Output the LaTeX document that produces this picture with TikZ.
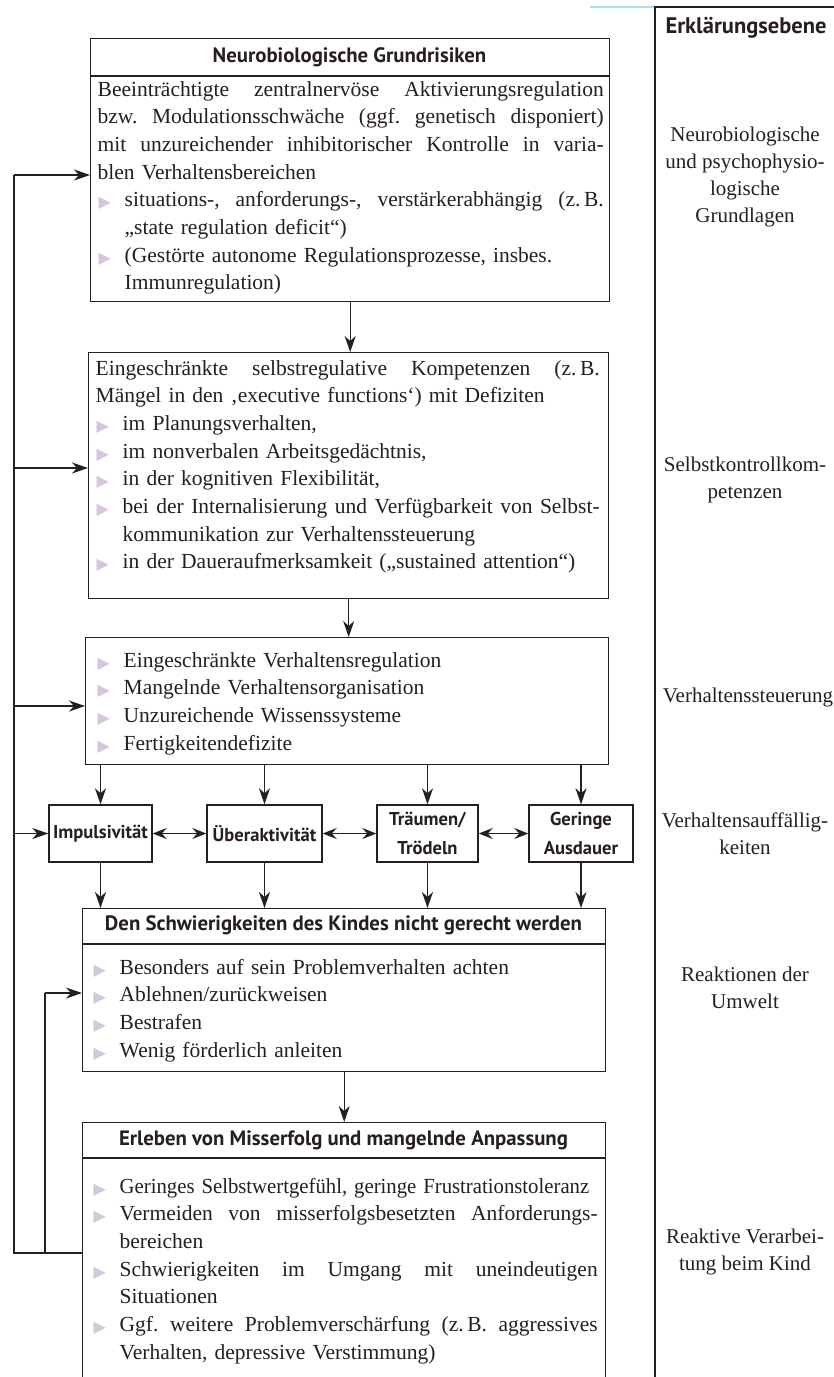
\documentclass[tikz,border=0pt]{standalone}
\usepackage{fontspec}
\usepackage{graphicx}
\setmainfont{Liberation Serif}
\newfontfamily\hdfont{PT Sans}
\newfontfamily\symfont{DejaVu Sans}
\usetikzlibrary{arrows.meta,calc}
\definecolor{ink}{RGB}{38,30,36}
\definecolor{bulcol}{RGB}{214,198,220}
\definecolor{scan}{RGB}{160,228,232}
\frenchspacing
\newlength\ind
\setlength\ind{27pt}
\newlength\bw
% list markers and line helpers
\newcommand\bul{\raisebox{-1pt}{\symfont\fontsize{16}{16}\selectfont\color{bulcol}▶}}
\newcommand\spread[2]{\hbox to #1{\spaceskip=0.25em plus 3em minus 0.05em\relax #2}}
\newcommand\Lj[1]{\noindent\strut\spread{\bw}{#1}\par}
\newcommand\Ll[1]{\noindent\strut\mbox{#1}\par}
\newcommand\Bj[1]{\noindent\strut\makebox[\ind][l]{\hspace{1pt}\bul}\spread{\dimexpr\bw-\ind\relax}{#1}\par}
\newcommand\Bl[1]{\noindent\strut\makebox[\ind][l]{\hspace{1pt}\bul}\mbox{#1}\par}
\newcommand\Cl[1]{\noindent\strut\hspace*{\ind}\mbox{#1}\par}
\begin{document}
\begin{tikzpicture}[x=1pt,y=-1pt,
  line width=1.4pt,
  every node/.style={text=ink},
  box/.style={draw=ink, line width=1.4pt, rectangle, inner sep=0pt, anchor=north west},
  sbox/.style={draw=ink, line width=1.4pt, rectangle, inner sep=0pt, minimum height=57pt,
    align=center, font=\hdfont\bfseries\fontsize{18.6}{29}\selectfont},
  hdr/.style={inner sep=0pt, font=\hdfont\bfseries\fontsize{20.8}{22}\selectfont},
  body/.style={inner sep=0pt, anchor=north west, text width=#1,
    font=\fontsize{21.5}{27.7}\selectfont\setlength\bw{#1}},
  rlab/.style={inner sep=0pt, align=center, font=\fontsize{21}{26.7}\selectfont},
  ln/.style={draw=ink, line width=1.4pt},
  arr/.style={draw=ink, line width=1.4pt, -{Stealth[length=16pt,width=11pt,inset=5pt]}},
  darr/.style={draw=ink, line width=1.4pt, {Stealth[length=14pt,width=11pt,inset=5pt]}-{Stealth[length=14pt,width=11pt,inset=5pt]}}
]
\useasboundingbox (0,0) rectangle (834,1377);
\clip (0,0) rectangle (834,1377);
\fill[white] (0,0) rectangle (834,1377);

% ---- level column on the right
\draw[scan, line width=1.4pt] (590,7) -- (655,7);
\draw[ln] (834,7) -- (655,7) -- (655,1380);
\node[inner sep=0pt, font=\hdfont\bfseries\fontsize{22.5}{24}\selectfont] (lvl) at (746,28) {Erklärungsebene};
\node[rlab] (r1) at (745,177) {Neurobiologische\\und psychophysio-\\logische\\Grundlagen};
\node[rlab] (r2) at (745,480) {Selbstkontrollkom-\\petenzen};
\node[rlab] (r3) at (748,697) {Verhaltenssteuerung};
\node[rlab] (r4) at (745,834) {Verhaltensauffällig-\\keiten};
\node[rlab] (r5) at (745,988) {Reaktionen der\\Umwelt};
\node[rlab] (r6) at (745,1252) {Reaktive Verarbei-\\tung beim Kind};

% ---- box 1: neurobiological risks
\node[box, minimum width=519pt, minimum height=263pt] (b1) at (90,38) {};
\draw[ln] (90,76) -- (609,76);
\node[hdr] (b1h) at (349.5,57) {Neurobiologische Grundrisiken};
\node[body=506pt] (b1t) at (97,76) {%
\Lj{Beeinträchtigte zentralnervöse Aktivierungsregulation}
\Lj{bzw. Modulationsschwäche (ggf. genetisch disponiert)}
\Lj{mit unzureichender inhibitorischer Kontrolle in varia-}
\Ll{blen Verhaltensbereichen}
\Bj{situations-, anforderungs-, verstärkerabhängig (z.\,B.}
\Cl{„state regulation deficit“)}
\Bl{(Gestörte autonome Regulationsprozesse, insbes.}
\Cl{Immunregulation)}};

% ---- box 2: self-regulation
\node[box, minimum width=520pt, minimum height=246pt] (b2) at (88,352) {};
\node[body=504pt] (b2t) at (95,355) {%
\Lj{Eingeschränkte selbstregulative Kompetenzen (z.\,B.}
\Ll{Mängel in den ‚executive functions‘) mit Defiziten}
\Bl{im Planungsverhalten,}
\Bl{im nonverbalen Arbeitsgedächtnis,}
\Bl{in der kognitiven Flexibilität,}
\Bj{bei der Internalisierung und Verfügbarkeit von Selbst-}
\Cl{kommunikation zur Verhaltenssteuerung}
\Bl{in der Daueraufmerksamkeit („sustained attention“)}};

% ---- box 3: behaviour control
\node[box, minimum width=523pt, minimum height=127pt] (b3) at (85,637) {};
\node[body=505pt] (b3t) at (96,647) {%
\Bl{Eingeschränkte Verhaltensregulation}
\Bl{Mangelnde Verhaltensorganisation}
\Bl{Unzureichende Wissenssysteme}
\Bl{Fertigkeitendefizite}};

% ---- row of symptoms
\node[sbox, minimum width=103pt] (sA) at (100.5,833.5) {Impulsivität};
\node[sbox, minimum width=115pt] (sB) at (264.5,833.5) {Überaktivität};
\node[sbox, minimum width=101pt] (sC) at (427.5,833.5) {Träumen/\\Trödeln};
\node[sbox, minimum width=104pt] (sD) at (581,833.5) {Geringe\\Ausdauer};

% ---- box 5: reactions of the environment
\node[box, minimum width=523pt, minimum height=163pt] (b5) at (82,908) {};
\draw[ln] (82,944) -- (605,944);
\node[hdr] (b5h) at (343.5,925) {Den Schwierigkeiten des Kindes nicht gerecht werden};
\node[body=505pt] (b5t) at (92,954) {%
\Bl{Besonders auf sein Problemverhalten achten}
\Bl{Ablehnen/zurückweisen}
\Bl{Bestrafen}
\Bl{Wenig förderlich anleiten}};

% ---- box 6: the child's reactive processing
\node[box, minimum width=523pt, minimum height=300pt] (b6) at (82,1122) {};
\draw[ln] (82,1158) -- (605,1158);
\node[hdr] (b6h) at (343.5,1140) {Erleben von Misserfolg und mangelnde Anpassung};
\node[body=505pt] (b6t) at (92,1173) {%
\Bl{\scalebox{0.965}[1]{Geringes Selbstwertgefühl, geringe Frustrationstoleranz}}
\Bj{Vermeiden von misserfolgsbesetzten Anforderungs-}
\Cl{bereichen}
\Bj{Schwierigkeiten im Umgang mit uneindeutigen}
\Cl{Situationen}
\Bj{Ggf. weitere Problemverschärfung (z.\,B. aggressives}
\Cl{Verhalten, depressive Verstimmung)}};

% ---- main downward flow
\draw[arr] (b1.south) -- (b1.south |- b2.north);
\draw[arr] (b2.south) -- (b2.south |- b3.north);
\foreach \s in {sA,sB,sC,sD}{
  \draw[arr] (\s.north |- b3.south) -- (\s.north);
  \draw[arr] (\s.south) -- (\s.south |- b5.north);
}
\draw[darr] (sA.east) -- (sB.west);
\draw[darr] (sB.east) -- (sC.west);
\draw[darr] (sC.east) -- (sD.west);
\draw[arr] (b5.south) -- (b5.south |- b6.north);

% ---- feedback loops on the left
\coordinate (fo) at (14,1253);
\coordinate (fi) at (45,1253);
\coordinate (e1) at (14,175);
\coordinate (e2) at (14,468);
\coordinate (e3) at (14,706);
\coordinate (e5) at (45,993);
\draw[ln] (b6.west |- fo) -- (fo) -- (e1);
\draw[arr] (e1) -- (e1 -| b1.west);
\draw[arr] (e2) -- (e2 -| b2.west);
\draw[arr] (e3) -- (e3 -| b3.west);
\draw[arr] (fo |- sA.west) -- (sA.west);
\draw[ln] (fi) -- (e5);
\draw[arr] (e5) -- (e5 -| b5.west);
\end{tikzpicture}
\end{document}
